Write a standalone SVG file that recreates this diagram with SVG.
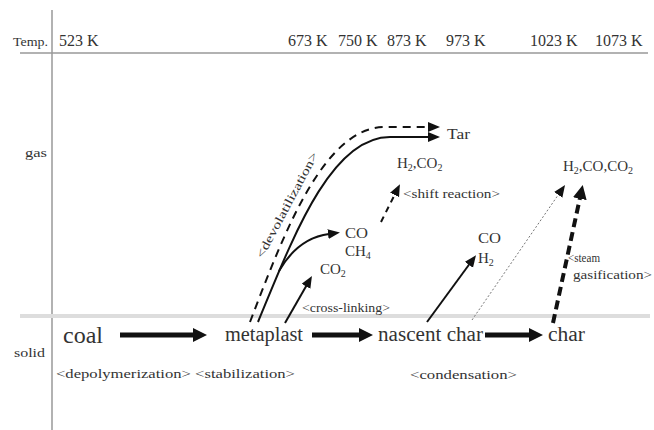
<svg xmlns="http://www.w3.org/2000/svg" width="654" height="430" viewBox="0 0 654 430">
<style>
.tx text{fill:#333}
.t{font-size:16px}
.ax{font-size:12px}
.n{font-size:20px}
.s{font-size:12px}
.g{font-size:15px}
.ln{fill:none;stroke:#111;stroke-width:2}
.big{fill:none;stroke:#111;stroke-width:5}
</style>
<defs>
<marker id="h" markerUnits="userSpaceOnUse" markerWidth="13" markerHeight="11" refX="1" refY="5" orient="auto"><path d="M0,0 L12,5 L0,10 z" fill="#111"/></marker>
<marker id="hb" markerUnits="userSpaceOnUse" markerWidth="15" markerHeight="15" refX="1" refY="7" orient="auto"><path d="M0,0 L14,7 L0,14 z" fill="#111"/></marker>
</defs>
<rect width="654" height="430" fill="#fff"/>
<g class="tx" font-family="Liberation Serif, serif">
<g id="axes">
<line x1="52" y1="10" x2="52" y2="430" stroke="#999" stroke-width="1.5"/>
<line x1="20" y1="53" x2="648" y2="53" stroke="#999" stroke-width="1.5"/>
<line x1="20" y1="316" x2="650" y2="316" stroke="#ddd" stroke-width="4"/>
<text class="ax" x="13" y="46" textLength="35" lengthAdjust="spacingAndGlyphs">Temp.</text>
<text class="ax" x="25" y="157" textLength="22" lengthAdjust="spacingAndGlyphs">gas</text>
<text class="ax" x="14" y="357" textLength="31" lengthAdjust="spacingAndGlyphs">solid</text>
</g>
<g id="temps">
<text class="t" x="59" y="46">523 K</text>
<text class="t" x="288" y="46">673 K</text>
<text class="t" x="338" y="46">750 K</text>
<text class="t" x="387" y="46">873 K</text>
<text class="t" x="446" y="46">973 K</text>
<text class="t" x="530" y="46">1023 K</text>
<text class="t" x="595" y="46">1073 K</text>
</g>
<g id="coal"><text x="63" y="343" font-size="24">coal</text></g>
<g id="metaplast"><text class="n" x="225" y="341" textLength="78" lengthAdjust="spacingAndGlyphs">metaplast</text></g>
<g id="nascent-char"><text class="n" x="378" y="341" textLength="105" lengthAdjust="spacingAndGlyphs">nascent char</text></g>
<g id="char"><text class="n" x="548" y="341" textLength="37" lengthAdjust="spacingAndGlyphs">char</text></g>
<g id="tar"><text class="g" x="447" y="139" textLength="23" lengthAdjust="spacingAndGlyphs">Tar</text></g>
<g id="co-ch4">
<text class="g" x="345" y="238" textLength="23" lengthAdjust="spacingAndGlyphs">CO</text>
<text class="g" x="345" y="256">CH<tspan font-size="10" dy="3">4</tspan></text>
</g>
<g id="co2"><text class="g" x="320" y="274">CO<tspan font-size="10" dy="3">2</tspan></text></g>
<g id="h2-co2"><text class="g" x="397" y="168">H<tspan font-size="10" dy="3">2</tspan><tspan dy="-3">,CO</tspan><tspan font-size="10" dy="3">2</tspan></text></g>
<g id="co-h2">
<text class="g" x="478" y="243" textLength="23" lengthAdjust="spacingAndGlyphs">CO</text>
<text class="g" x="478" y="263">H<tspan font-size="10" dy="3">2</tspan></text>
</g>
<g id="h2-co-co2"><text class="g" x="563" y="171">H<tspan font-size="10" dy="3">2</tspan><tspan dy="-3">,CO,CO</tspan><tspan font-size="10" dy="3">2</tspan></text></g>
<g id="labels">
<text class="s" x="56" y="378" textLength="239" lengthAdjust="spacingAndGlyphs">&lt;depolymerization&gt; &lt;stabilization&gt;</text>
<text class="s" x="410" y="379" textLength="107" lengthAdjust="spacingAndGlyphs">&lt;condensation&gt;</text>
<text class="s" x="302" y="312" textLength="88" lengthAdjust="spacingAndGlyphs">&lt;cross-linking&gt;</text>
<text class="s" x="403" y="198" textLength="97" lengthAdjust="spacingAndGlyphs">&lt;shift reaction&gt;</text>
<text class="s" x="568" y="262" textLength="32" lengthAdjust="spacingAndGlyphs">&lt;steam</text>
<text class="s" x="573" y="279" textLength="79" lengthAdjust="spacingAndGlyphs">gasification&gt;</text>
<text class="s" transform="translate(287,205) rotate(-62)" x="0" y="4" text-anchor="middle" textLength="118" lengthAdjust="spacingAndGlyphs">&lt;devolatilization&gt;</text>
</g>
</g>
<g id="connectors">
<line class="big" x1="120" y1="335" x2="194" y2="335" marker-end="url(#hb)"/>
<line class="big" x1="312" y1="335" x2="360" y2="335" marker-end="url(#hb)"/>
<line class="big" x1="485" y1="335" x2="530" y2="335" marker-end="url(#hb)"/>
<path class="ln" d="M258,322 C292,240 330,137 390,137 L429,137" marker-end="url(#h)"/>
<path class="ln" d="M250,322 C283,236 323,127 385,127 L429,127" stroke-dasharray="8,6" marker-end="url(#h)"/>
<path class="ln" d="M279,271 Q298,238 329,234" marker-end="url(#h)"/>
<line class="ln" x1="285" y1="323" x2="306.5" y2="285.5" marker-end="url(#h)"/>
<line class="ln" x1="381" y1="222" x2="395" y2="194" stroke-dasharray="6,5" marker-end="url(#h)"/>
<line class="ln" x1="427" y1="322" x2="469.5" y2="264" marker-end="url(#h)"/>
<line x1="472" y1="320" x2="558.8" y2="194" stroke="#777" stroke-width="1" stroke-dasharray="2,2" marker-end="url(#h)"/>
<line x1="553" y1="323" x2="580" y2="197.7" stroke="#111" stroke-width="4" stroke-dasharray="9,5" marker-end="url(#hb)"/>
</g>
</svg>
